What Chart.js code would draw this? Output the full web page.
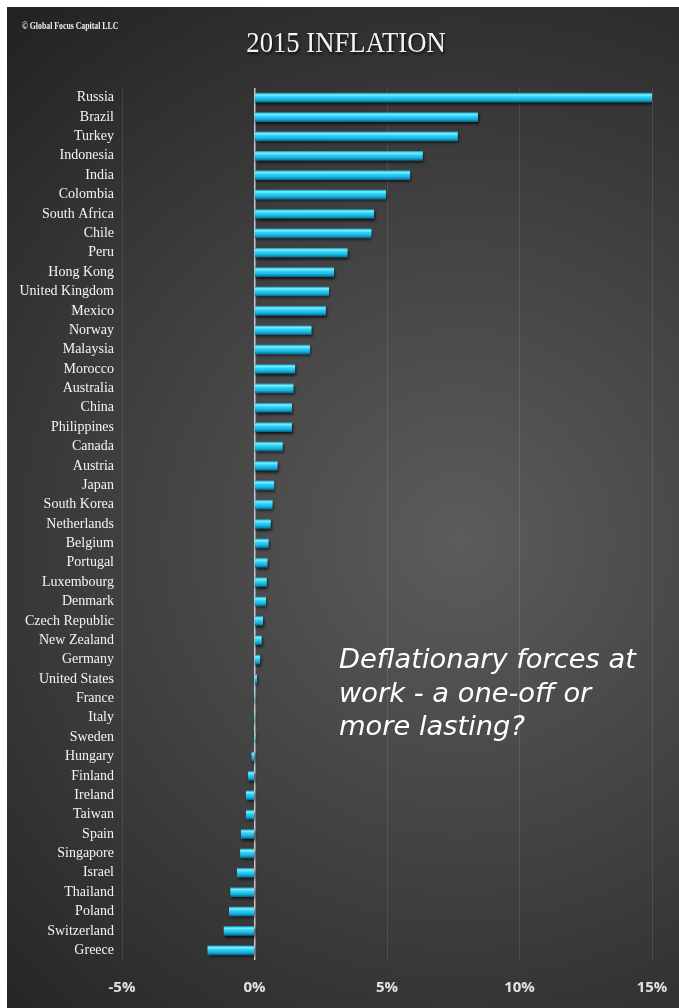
<!DOCTYPE html>
<html>
<head>
<meta charset="utf-8">
<script src="https://cdn.jsdelivr.net/npm/chart.js@4"></script>
<style>
  html, body { margin: 0; padding: 0; background: #ffffff; }
  #wrap { width: 679px; height: 1008px; position: relative; }
</style>
</head>
<body>
<div id="wrap"><canvas id="c" width="679" height="1008"></canvas></div>
<script>
const categories = ["Russia","Brazil","Turkey","Indonesia","India","Colombia","South Africa","Chile","Peru","Hong Kong","United Kingdom","Mexico","Norway","Malaysia","Morocco","Australia","China","Philippines","Canada","Austria","Japan","South Korea","Netherlands","Belgium","Portugal","Luxembourg","Denmark","Czech Republic","New Zealand","Germany","United States","France","Italy","Sweden","Hungary","Finland","Ireland","Taiwan","Spain","Singapore","Israel","Thailand","Poland","Switzerland","Greece"];
const inflation2015 = [15.0,8.42,7.66,6.34,5.86,4.95,4.5,4.4,3.5,2.99,2.8,2.68,2.14,2.08,1.52,1.46,1.4,1.4,1.05,0.86,0.73,0.67,0.6,0.52,0.48,0.45,0.42,0.31,0.26,0.2,0.08,0.0,0.0,0.02,-0.1,-0.23,-0.31,-0.31,-0.5,-0.53,-0.65,-0.9,-0.95,-1.15,-1.76];
const xTicks = [-5, 0, 5, 10, 15];
const titleText = "2015 INFLATION";
const copyrightText = "\u00A9 Global Focus Capital LLC";
const noteLines = ["Deflationary forces at", "work - a one-off or", "more lasting?"];

const bgPlugin = {
  id: 'bg',
  beforeDraw(chart) {
    const ctx = chart.ctx;
    ctx.save();
    ctx.fillStyle = '#ffffff';
    ctx.fillRect(0, 0, chart.width, chart.height);
    const g = ctx.createRadialGradient(460, 540, 0, 460, 540, 680);
    g.addColorStop(0, '#5c5c5c');
    g.addColorStop(0.5, '#404040');
    g.addColorStop(1, '#232323');
    ctx.fillStyle = g;
    ctx.fillRect(7, 7, chart.width - 7, chart.height - 7);
    ctx.restore();
  }
};

const shadowPlugin = {
  id: 'barShadow',
  beforeDatasetsDraw(chart) {
    const ctx = chart.ctx;
    ctx.save();
    ctx.shadowColor = 'rgba(0,0,0,0.75)';
    ctx.shadowBlur = 3;
    ctx.shadowOffsetX = 1;
    ctx.shadowOffsetY = 2;
  },
  afterDatasetsDraw(chart) {
    chart.ctx.restore();
  }
};

const textPlugin = {
  id: 'texts',
  afterDraw(chart) {
    const ctx = chart.ctx;
    ctx.save();
    ctx.fillStyle = '#f0f0f0';
    ctx.textBaseline = 'alphabetic';
    ctx.textAlign = 'left';
    ctx.save();
    ctx.translate(22, 29);
    ctx.scale(0.78, 1);
    ctx.font = 'bold 10px "Liberation Serif"';
    ctx.fillText(copyrightText, 0, 0);
    ctx.restore();
    ctx.save();
    ctx.shadowColor = 'rgba(0,0,0,0.8)';
    ctx.shadowBlur = 3;
    ctx.shadowOffsetX = 1;
    ctx.shadowOffsetY = 2;
    ctx.fillStyle = '#f4f4f4';
    ctx.textAlign = 'center';
    ctx.translate(346, 52);
    ctx.scale(0.92, 1);
    ctx.font = '29px "Liberation Serif"';
    ctx.fillText(titleText, 0, 0);
    ctx.restore();
    ctx.fillStyle = '#ffffff';
    ctx.textAlign = 'left';
    ctx.font = 'italic 26px "DejaVu Sans"';
    noteLines.forEach((t, i) => {
      ctx.save();
      ctx.translate(339, 668 + i * 33.5);
      ctx.scale(1.05, 1);
      ctx.fillText(t, 0, 0);
      ctx.restore();
    });
    ctx.restore();
  }
};

function barGradient(context) {
  const chart = context.chart;
  const ys = chart.scales && chart.scales.y;
  if (!ys || context.dataIndex === undefined || !chart.chartArea) return '#22c2e8';
  const c = ys.getPixelForValue(context.dataIndex);
  const g = chart.ctx.createLinearGradient(0, c - 4.5, 0, c + 4.5);
  g.addColorStop(0, '#1a9fc4');
  g.addColorStop(0.18, '#7eeeff');
  g.addColorStop(0.42, '#30d2f4');
  g.addColorStop(0.72, '#17b2e0');
  g.addColorStop(1, '#0a6d8e');
  return g;
}

new Chart(document.getElementById('c'), {
  type: 'bar',
  data: {
    labels: categories,
    datasets: [{
      data: inflation2015,
      backgroundColor: barGradient,
      borderWidth: 0,
      barThickness: 9
    }]
  },
  options: {
    indexAxis: 'y',
    responsive: false,
    animation: false,
    devicePixelRatio: 1,
    layout: { padding: { left: 0, right: 27, top: 88, bottom: 0 } },
    plugins: { legend: { display: false }, tooltip: { enabled: false }, title: { display: false } },
    scales: {
      x: {
        type: 'linear',
        min: -5,
        max: 15,
        afterBuildTicks(scale) { scale.ticks = xTicks.map(v => ({ value: v })); },
        afterFit(scale) { scale.height = 48; scale.paddingLeft = 0; scale.paddingRight = 0; },
        ticks: {
          color: '#e2e2e2',
          padding: 19,
          font: { family: '"Open Sans"', size: 15, weight: 'bold' },
          callback: v => v + '%'
        },
        grid: {
          drawTicks: false,
          color: ctx => (ctx.tick && ctx.tick.value === 0) ? 'rgba(215,215,215,0.9)' : 'rgba(255,255,255,0.1)',
          lineWidth: ctx => (ctx.tick && ctx.tick.value === 0) ? 1.5 : 1
        },
        border: { display: false }
      },
      y: {
        afterFit(scale) { scale.width = 122; },
        ticks: {
          color: '#f4f4f4',
          padding: 8,
          autoSkip: false,
          font: { family: '"Liberation Serif"', size: 14 }
        },
        grid: { display: false, drawTicks: false },
        border: { display: false }
      }
    }
  },
  plugins: [bgPlugin, shadowPlugin, textPlugin]
});
</script>
</body>
</html>
